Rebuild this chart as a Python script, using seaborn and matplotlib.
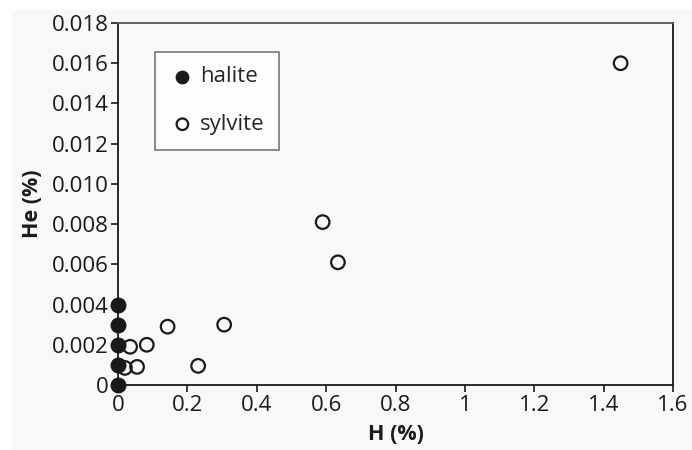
import pandas as pd
import matplotlib.pyplot as plt
import seaborn as sns
from matplotlib.patches import Rectangle
from matplotlib.ticker import FuncFormatter

sns.set_theme(style="white")
plt.rcParams['font.family'] = ['Open Sans', 'DejaVu Sans']

halite_h = [0, 0, 0, 0, 0]
halite_he = [0.0, 0.001, 0.002, 0.003, 0.004]

sylvite_h = [0.02, 0.055, 0.035, 0.083, 0.143, 0.231, 0.306, 0.59, 0.634, 1.449]
sylvite_he = [0.00085, 0.0009, 0.0019, 0.002, 0.0029, 0.00095, 0.003, 0.0081, 0.0061, 0.016]

x_ticks = [0, 0.2, 0.4, 0.6, 0.8, 1.0, 1.2, 1.4, 1.6]
y_ticks = [0, 0.002, 0.004, 0.006, 0.008, 0.010, 0.012, 0.014, 0.016, 0.018]

df_hal = pd.DataFrame({'H': halite_h, 'He': halite_he})
df_syl = pd.DataFrame({'H': sylvite_h, 'He': sylvite_he})

bg = '#f8f8f8'
fig = plt.figure(figsize=(6.92, 4.5), dpi=100, facecolor='white')
fig.patches.append(Rectangle((12 / 692, 0), 1, 1 - 10 / 450, transform=fig.transFigure,
                             facecolor=bg, edgecolor='none', zorder=-10))
ax = fig.add_axes([118 / 692, 1 - 385 / 450, 555 / 692, 362 / 450])
ax.set_facecolor(bg)

sns.scatterplot(data=df_hal, x='H', y='He', ax=ax, s=110, color='#1a1a1a',
                edgecolor='#1a1a1a', linewidth=1, label='halite', clip_on=False, zorder=3)
sns.scatterplot(data=df_syl, x='H', y='He', ax=ax, s=95, facecolor='none',
                edgecolor='#1a1a1a', linewidth=1.6, label='sylvite', clip_on=False, zorder=3)

ax.set_xlim(0, 1.6)
ax.set_ylim(0, 0.018)
ax.set_xticks(x_ticks)
ax.set_yticks(y_ticks)
ax.xaxis.set_major_formatter(FuncFormatter(lambda v, p: '0' if v == 0 else f'{v:g}'))
ax.yaxis.set_major_formatter(FuncFormatter(lambda v, p: '0' if v == 0 else f'{v:.3f}'))
ax.tick_params(axis='both', direction='out', length=5, width=1.2, color='#1a1a1a',
               labelsize=16, labelcolor='#1a1a1a', pad=2, bottom=True, left=True)

for side in ['left', 'bottom', 'right']:
    ax.spines[side].set_color('#1a1a1a')
    ax.spines[side].set_linewidth(1.3)
ax.spines['top'].set_color('#555555')
ax.spines['top'].set_linewidth(1.3)

ax.set_xlabel('H (%)', fontsize=15.5, fontweight='bold', color='#1a1a1a', labelpad=6)
ax.set_ylabel('He (%)', fontsize=15.5, fontweight='bold', color='#1a1a1a', labelpad=6)

leg = ax.legend(loc='upper left', bbox_to_anchor=(0.066, 0.92), borderaxespad=0,
                fontsize=16, labelspacing=1.2, handletextpad=0.2, handlelength=1.2,
                borderpad=0.65, fancybox=False, frameon=True, markerscale=0.85)
leg.get_frame().set_edgecolor('#555555')
leg.get_frame().set_linewidth(1.2)
leg.get_frame().set_facecolor('white')

plt.savefig('out.png', dpi=100, facecolor=fig.get_facecolor())
plt.close()
